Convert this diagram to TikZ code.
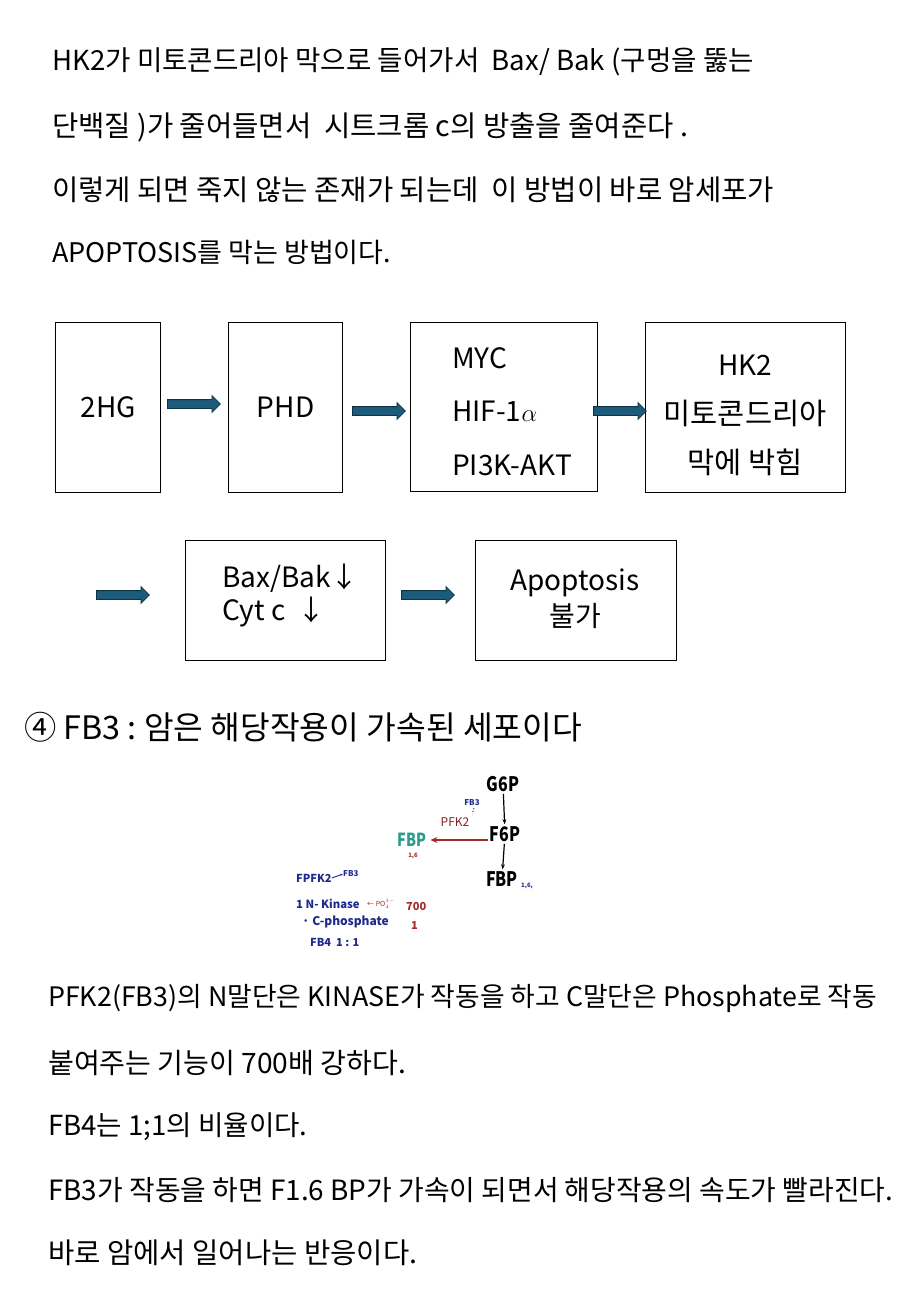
\documentclass[tikz,border=0pt]{standalone}
\usepackage{fontspec}
\setmainfont{Noto Sans CJK KR}
\usetikzlibrary{shapes.arrows,arrows.meta}
\definecolor{arrfill}{HTML}{1C5B7A}
\definecolor{arrdraw}{HTML}{0E3345}
\definecolor{hwblue}{HTML}{1E2A8C}
\definecolor{hwred}{HTML}{A32A2A}
\definecolor{hwteal}{HTML}{2A9A8A}
\newcommand{\fsz}[1]{\fontsize{#1}{31}\selectfont}
\begin{document}
\begin{tikzpicture}[x=1pt,y=-1pt,
  txt/.style={anchor=west,inner sep=0pt,font=\fsz{27.6}},
  box/.style={draw,line width=1.3pt,inner sep=0pt,anchor=north west},
  btxt/.style={inner sep=0pt,font=\fontsize{28}{31}\selectfont},
  blk/.style={single arrow,fill=arrfill,draw=arrdraw,line width=0.8pt,inner sep=4pt,
    minimum height=53pt,single arrow head extend=4pt,anchor=west},
  hw/.style={inner sep=0pt,font=\bfseries\fontsize{11}{12}\selectfont},
  hwb/.style={hw,text=hwblue},
  big/.style={hw,font=\bfseries\fontsize{20}{22}\selectfont,xscale=0.8}]
\useasboundingbox (0,0) rectangle (900,1300);
\fill[white] (0,0) rectangle (900,1300);
% top paragraph
\node[txt] (t1) at (52,62) {HK2가 미토콘드리아 막으로 들어가서\ \ Bax/ Bak (구멍을 뚫는};
\node[txt,font=\fsz{28.6}] (t2) at (52,127) {단백질 )가 줄어들면서\ \ 시트크롬 c의 방출을 줄여준다 .};
\node[txt,font=\fsz{28.6}] (t3) at (52,190) {이렇게 되면 죽지 않는 존재가 되는데\ \ 이 방법이 바로 암세포가};
\node[txt,font=\fsz{27}] (t4) at (52,252) {APOPTOSIS를 막는 방법이다.};
% row 1 boxes
\node[box,minimum width=105pt,minimum height=170pt] (b1) at (55,322) {};
\node[btxt] (l1) at (b1.center) {2HG};
\node[box,minimum width=114pt,minimum height=170pt] (b2) at (228,322) {};
\node[btxt] (l2) at (b2.center) {PHD};
\node[box,minimum width=187pt,minimum height=169pt] (b3) at (410,322) {};
\node[btxt,anchor=west] (l3a) at (452,358) {MYC};
\node[btxt,anchor=west] (l3b) at (452,411) {HIF-1$\alpha$};
\node[btxt,anchor=west] (l3c) at (452,465) {PI3K-AKT};
\node[box,minimum width=200pt,minimum height=170pt] (b4) at (645,322) {};
\node[btxt] (l4a) at (745,365) {HK2};
\node[btxt,font=\fontsize{29.5}{32}\selectfont] (l4b) at (745,413) {미토콘드리아};
\node[btxt,font=\fontsize{29.5}{32}\selectfont] (l4c) at (745,462) {막에 박힘};
\node[blk] (a1) at (167,404) {};
\node[blk] (a2) at (352,411) {};
\node[blk] (a3) at (593,411) {};
% row 2
\node[blk] (a4) at (96,595) {};
\node[box,minimum width=200pt,minimum height=120pt] (b5) at (185,540) {};
\node[btxt,anchor=west] (l5a) at (222,578) {Bax/Bak↓};
\node[btxt,anchor=west] (l5b) at (222,612) {Cyt c\ \ ↓};
\node[blk] (a5) at (401,595) {};
\node[box,minimum width=201pt,minimum height=120pt] (b6) at (475,540) {};
\node[btxt] (l6a) at (575,583) {Apoptosis};
\node[btxt] (l6b) at (575,616) {불가};
% heading
\node[anchor=west,inner sep=0pt,font=\fontsize{32.3}{36}\selectfont] (h) at (24,727) {④ FB3 :\ 암은 해당작용이 가속된 세포이다};
% handwritten sketch
\node[big] (g6p) at (503,784) {G6P};
\node[big] (f6p) at (505,834) {F6P};
\node[big] (fbp1) at (502,879) {FBP};
\node[hw,text=hwblue,font=\bfseries\fontsize{6}{7}\selectfont] (sub1) at (527,886) {1,6,};
\draw[line width=1.2pt,-{Stealth[length=5pt]},shorten >=2pt,shorten <=2pt] (g6p) -- (f6p);
\draw[line width=1.2pt,-{Stealth[length=5pt]},shorten >=2pt,shorten <=2pt] (f6p) -- (fbp1);
\node[big,text=hwteal,font=\bfseries\fontsize{18}{20}\selectfont] (fbp2) at (412,840) {FBP};
\node[hw,text=hwred,font=\bfseries\fontsize{6}{7}\selectfont] (sub2) at (413,856) {1,6};
\draw[hwred,line width=1.1pt,-{Stealth[length=7pt,width=6pt]},shorten <=2pt,shorten >=4pt] (f6p.west |- fbp2) -- (fbp2.east);
\node[hw,text=hwred!80!black,font=\fontsize{12}{13}\selectfont] (pfk) at (455,822) {PFK2};
\node[hw,text=hwblue,font=\bfseries\fontsize{8}{9}\selectfont] (fb3s) at (472,803) {FB3};
\draw[hwblue,line width=1pt,dotted] (fb3s.south) ++(2,2) coordinate (d1) -- ++(-2,6) coordinate (d2);
\node[hwb,anchor=west] (fpfk) at (296,878) {FPFK2};
\node[hwb,anchor=west,font=\bfseries\fontsize{8}{9}\selectfont] (fb3b) at (343,874) {FB3};
\draw[hwblue,line width=0.9pt,-{Stealth[length=3pt]}] (fpfk.east) -- (fb3b.west);
\node[hwb,anchor=west,font=\bfseries\fontsize{11.3}{13}\selectfont] (nk) at (296,904) {1 N- Kinase};
\node[hw,anchor=west,text=hwred,font=\fontsize{7}{8}\selectfont] (po) at (367,904) {← PO$_4^{3-}$};
\node[hw,anchor=west,text=hwred] (n700) at (406,906) {700};
\node[hwb,anchor=west,font=\bfseries\fontsize{12}{13}\selectfont] (cp) at (302,922) {· C-phosphate};
\node[hw,anchor=west,text=hwred] (n1) at (411,925) {1};
\node[hwb,anchor=west] (fb4) at (310,942) {FB4\ \ 1 : 1};
% bottom paragraph
\node[txt,font=\fsz{26.8}] (p1) at (48,998) {PFK2(FB3)의 N말단은 KINASE가 작동을 하고 C말단은 Phosphate로 작동};
\node[txt,font=\fsz{28.1}] (p2) at (48,1063) {붙여주는 기능이 700배 강하다.};
\node[txt] (p3) at (48,1127) {FB4는 1;1의 비율이다.};
\node[txt,font=\fsz{27.9}] (p4) at (48,1190) {FB3가 작동을 하면 F1.6 BP가 가속이 되면서 해당작용의 속도가 빨라진다.};
\node[txt,font=\fsz{28.6}] (p5) at (48,1253) {바로 암에서 일어나는 반응이다.};
\end{tikzpicture}
\end{document}
